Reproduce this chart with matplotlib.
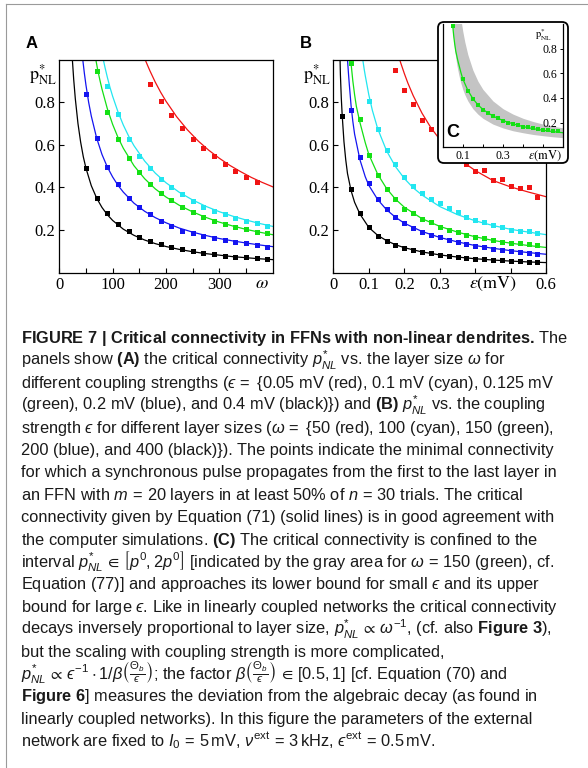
import matplotlib
matplotlib.use("Agg")
import matplotlib.pyplot as plt
from matplotlib.patches import FancyBboxPatch
from matplotlib.lines import Line2D

plt.rcParams["mathtext.fontset"] = "custom"
plt.rcParams["mathtext.rm"] = "Liberation Sans"
plt.rcParams["mathtext.it"] = "Liberation Sans:italic"
plt.rcParams["mathtext.bf"] = "Liberation Sans:bold"
plt.rcParams["mathtext.sf"] = "Liberation Sans"
plt.rcParams["mathtext.fallback"] = "stixsans"

# ---------------- data: panel A (p* vs layer size omega) ----------------
a_black_w = [50, 70, 90, 110, 130, 150, 170, 190, 210, 230, 250, 270, 290, 310, 330, 350, 370, 390]
a_black_p = [0.49, 0.352, 0.281, 0.227, 0.197, 0.169, 0.150, 0.133, 0.120, 0.109, 0.100, 0.092,
             0.085, 0.080, 0.075, 0.071, 0.068, 0.064]
a_blue_w = [50, 70, 90, 110, 130, 150, 170, 190, 210, 230, 250, 270, 290, 310, 330, 350, 370, 390]
a_blue_p = [0.838, 0.633, 0.497, 0.414, 0.352, 0.306, 0.274, 0.242, 0.219, 0.197, 0.184, 0.172,
            0.161, 0.152, 0.145, 0.137, 0.130, 0.122]
a_green_w = [70, 90, 110, 130, 150, 170, 190, 210, 230, 250, 270, 290, 310, 330, 350, 370, 390]
a_green_p = [0.946, 0.756, 0.626, 0.540, 0.471, 0.414, 0.372, 0.341, 0.309, 0.283, 0.262, 0.244,
             0.228, 0.215, 0.203, 0.192, 0.184]
a_cyan_w = [90, 110, 130, 150, 170, 190, 210, 230, 250, 270, 290, 310, 330, 350, 370, 390]
a_cyan_p = [0.878, 0.743, 0.627, 0.547, 0.493, 0.438, 0.403, 0.370, 0.338, 0.309, 0.291, 0.274,
            0.258, 0.242, 0.231, 0.219]
a_red_w = [170, 190, 210, 230, 250, 270, 290, 310, 330, 350, 370]
a_red_p = [0.885, 0.806, 0.740, 0.677, 0.627, 0.586, 0.547, 0.510, 0.478, 0.450, 0.427]

# theory curves (Equation 71), panel A
a_black_cw = [24.5, 27, 30, 35, 40, 45, 50, 60, 70, 80, 90, 100, 120, 140, 160, 180, 200, 225, 250,
              275, 300, 325, 350, 375, 400]
a_black_cp = [1.0, 0.907, 0.817, 0.70, 0.613, 0.544, 0.49, 0.408, 0.35, 0.306, 0.272, 0.245, 0.204,
              0.175, 0.153, 0.136, 0.1225, 0.109, 0.098, 0.089, 0.082, 0.075, 0.070, 0.065, 0.061]
a_blue_cw = [44, 47, 50, 55, 60, 70, 80, 90, 100, 110, 120, 140, 160, 180, 200, 225, 250, 275, 300,
             325, 350, 375, 400]
a_blue_cp = [1.0, 0.936, 0.88, 0.80, 0.735, 0.632, 0.555, 0.496, 0.449, 0.410, 0.378, 0.326, 0.288,
             0.258, 0.234, 0.209, 0.190, 0.174, 0.160, 0.149, 0.139, 0.130, 0.122]
a_green_cw = [68.5, 72, 76, 80, 90, 100, 110, 120, 140, 160, 180, 200, 225, 250, 275, 300, 325, 350,
              375, 400]
a_green_cp = [1.0, 0.952, 0.905, 0.862, 0.77, 0.696, 0.635, 0.584, 0.502, 0.441, 0.393, 0.355, 0.316,
              0.285, 0.259, 0.237, 0.219, 0.203, 0.190, 0.178]
a_cyan_cw = [82.5, 86, 90, 95, 100, 110, 120, 130, 140, 160, 180, 200, 225, 250, 275, 300, 325, 350,
             375, 400]
a_cyan_cp = [1.0, 0.96, 0.918, 0.87, 0.828, 0.755, 0.693, 0.641, 0.596, 0.524, 0.467, 0.422, 0.377,
             0.341, 0.311, 0.286, 0.265, 0.247, 0.231, 0.217]
a_red_cw = [161, 165, 170, 180, 190, 200, 220, 240, 260, 280, 300, 320, 340, 360, 380, 400]
a_red_cp = [1.0, 0.976, 0.947, 0.894, 0.847, 0.805, 0.732, 0.671, 0.619, 0.575, 0.537, 0.503, 0.474,
            0.447, 0.424, 0.403]

# ---------------- data: panel B (p* vs coupling strength eps) ----------------
b_black_e = [0.025, 0.05, 0.075, 0.1, 0.125, 0.15, 0.175, 0.2, 0.225, 0.25, 0.275, 0.3, 0.325, 0.35,
             0.375, 0.4, 0.425, 0.45, 0.475, 0.5, 0.525, 0.55, 0.575]
b_black_p = [0.737, 0.392, 0.281, 0.216, 0.173, 0.150, 0.130, 0.117, 0.106, 0.098, 0.090, 0.084,
             0.079, 0.072, 0.068, 0.065, 0.062, 0.059, 0.058, 0.055, 0.053, 0.052, 0.050]
b_blue_e = [0.05, 0.075, 0.1, 0.125, 0.15, 0.175, 0.2, 0.225, 0.25, 0.275, 0.3, 0.325, 0.35, 0.375,
            0.4, 0.425, 0.45, 0.475, 0.5, 0.525, 0.55, 0.575]
b_blue_p = [0.763, 0.544, 0.419, 0.346, 0.299, 0.260, 0.231, 0.211, 0.192, 0.177, 0.166, 0.153,
            0.142, 0.134, 0.125, 0.119, 0.112, 0.106, 0.101, 0.095, 0.090, 0.087]
b_green_e = [0.05, 0.075, 0.1, 0.125, 0.15, 0.175, 0.2, 0.225, 0.25, 0.275, 0.3, 0.325, 0.35, 0.375,
             0.4, 0.425, 0.45, 0.475, 0.5, 0.525, 0.55, 0.575]
b_green_p = [0.982, 0.721, 0.552, 0.458, 0.392, 0.346, 0.299, 0.278, 0.252, 0.236, 0.216, 0.200,
             0.189, 0.177, 0.166, 0.161, 0.153, 0.145, 0.140, 0.137, 0.134, 0.129]
b_cyan_e = [0.1, 0.125, 0.15, 0.175, 0.2, 0.225, 0.25, 0.275, 0.3, 0.325, 0.35, 0.375, 0.4, 0.425,
            0.45, 0.475, 0.5, 0.525, 0.55, 0.575]
b_cyan_p = [0.807, 0.674, 0.576, 0.508, 0.447, 0.408, 0.372, 0.346, 0.325, 0.302, 0.283, 0.262,
            0.247, 0.236, 0.224, 0.213, 0.200, 0.197, 0.195, 0.184]
b_red_e = [0.175, 0.2, 0.225, 0.25, 0.275, 0.3, 0.325, 0.35, 0.375, 0.4, 0.425, 0.45, 0.475, 0.5,
           0.525, 0.55, 0.575]
b_red_p = [0.951, 0.857, 0.792, 0.716, 0.673, 0.63, 0.59, 0.55, 0.510, 0.478, 0.482, 0.435, 0.438,
           0.408, 0.396, 0.403, 0.356]

b_black_ce = [0.019, 0.02, 0.0225, 0.025, 0.03, 0.035, 0.04, 0.05, 0.06, 0.075, 0.1, 0.125, 0.15,
              0.175, 0.2, 0.25, 0.3, 0.35, 0.4, 0.45, 0.5, 0.55, 0.6]
b_black_cp = [1.0, 0.93, 0.82, 0.74, 0.615, 0.53, 0.465, 0.385, 0.33, 0.275, 0.212, 0.175, 0.15,
              0.131, 0.117, 0.097, 0.083, 0.073, 0.065, 0.059, 0.054, 0.05, 0.047]
b_blue_ce = [0.04, 0.0425, 0.045, 0.05, 0.055, 0.06, 0.075, 0.09, 0.1, 0.125, 0.15, 0.175, 0.2, 0.25,
             0.3, 0.35, 0.4, 0.45, 0.5, 0.55, 0.6]
b_blue_cp = [1.0, 0.94, 0.885, 0.785, 0.71, 0.65, 0.53, 0.45, 0.41, 0.343, 0.295, 0.26, 0.232, 0.193,
             0.165, 0.144, 0.127, 0.114, 0.103, 0.094, 0.086]
b_green_ce = [0.049, 0.05, 0.055, 0.06, 0.065, 0.075, 0.09, 0.1, 0.125, 0.15, 0.175, 0.2, 0.25, 0.3,
              0.35, 0.4, 0.45, 0.5, 0.55, 0.6]
b_green_cp = [1.0, 0.982, 0.9, 0.835, 0.78, 0.705, 0.61, 0.555, 0.462, 0.395, 0.345, 0.307, 0.253,
              0.217, 0.19, 0.168, 0.151, 0.138, 0.127, 0.118]
b_cyan_ce = [0.083, 0.087, 0.09, 0.1, 0.11, 0.125, 0.15, 0.175, 0.2, 0.225, 0.25, 0.3, 0.35, 0.4,
             0.45, 0.5, 0.55, 0.6]
b_cyan_cp = [1.0, 0.955, 0.925, 0.835, 0.762, 0.676, 0.572, 0.498, 0.442, 0.398, 0.364, 0.31, 0.272,
             0.243, 0.221, 0.203, 0.19, 0.178]
b_red_ce = [0.187, 0.19, 0.2, 0.21, 0.225, 0.25, 0.275, 0.3, 0.325, 0.35, 0.375, 0.4, 0.45, 0.5,
            0.55, 0.6]
b_red_cp = [1.0, 0.984, 0.935, 0.89, 0.831, 0.748, 0.68, 0.625, 0.578, 0.539, 0.508, 0.479, 0.432,
            0.402, 0.378, 0.356]

# ---------------- data: panel C (omega = 150 with bounds p0 .. 2 p0) ----------------
c_band_e = [0.045, 0.05, 0.06, 0.07, 0.08, 0.09, 0.1, 0.11, 0.125, 0.15, 0.175, 0.2, 0.25, 0.3,
            0.35, 0.4, 0.45, 0.5, 0.55, 0.6]
c_band_lo = [1.04, 0.94, 0.783, 0.671, 0.588, 0.522, 0.47, 0.427, 0.376, 0.313, 0.269, 0.235,
             0.188, 0.157, 0.134, 0.118, 0.104, 0.094, 0.085, 0.078]
c_band_hi = [2.09, 1.88, 1.567, 1.343, 1.175, 1.044, 0.94, 0.855, 0.752, 0.627, 0.537, 0.47, 0.376,
             0.313, 0.269, 0.235, 0.209, 0.188, 0.171, 0.157]
c_pts_e = [0.05, 0.1, 0.125, 0.15, 0.175, 0.2, 0.225, 0.25, 0.275, 0.3, 0.325, 0.35, 0.375, 0.4,
           0.425, 0.45, 0.475, 0.5, 0.525, 0.55, 0.575]
c_pts_p = [0.982, 0.552, 0.458, 0.392, 0.346, 0.299, 0.278, 0.252, 0.236, 0.216, 0.200, 0.189,
           0.177, 0.166, 0.161, 0.153, 0.145, 0.140, 0.137, 0.134, 0.129]

a_yticks = [0.2, 0.4, 0.6, 0.8]
a_xticks = [0, 50, 100, 150, 200, 250, 300, 350]
a_xticklabels = ["0", "", "100", "", "200", "", "300", ""]
b_xticks = [0, 0.1, 0.2, 0.3, 0.4, 0.5, 0.6]
b_xticklabels = ["0", "0.1", "0.2", "0.3", "", "", "0.6"]
c_xticks = [0.1, 0.2, 0.3, 0.4, 0.5]
c_xticklabels = ["0.1", "", "0.3", "", ""]

RED, CYAN, GREEN, BLUE, BLACK = "#f01414", "#22e6f0", "#14e014", "#1414f0", "#000000"
SERIF = "Liberation Serif"
SANS = "Liberation Sans"

W, H = 588, 768
fig = plt.figure(figsize=(W / 100, H / 100), dpi=100)
fig.patch.set_facecolor("white")


def px_box(l, t, r, b):
    return [l / W, 1 - b / H, (r - l) / W, (b - t) / H]


def fx(x):
    return x / W


def fy(y):
    return 1 - y / H


def style_axes(ax, size=12, length=3.5, pad=3):
    for s in ax.spines.values():
        s.set_linewidth(0.9)
    ax.tick_params(direction="in", length=length, width=0.8, labelsize=size, pad=pad,
                   labelfontfamily=SERIF, top=False, right=False)


def draw_series(ax, xs, ps, cx, cp, color, ms=3.6, lw=0.9):
    ax.plot(cx, cp, color=color, lw=lw, clip_on=True, zorder=2)
    ax.plot(xs, ps, ls="none", marker="s", ms=ms, mfc=color, mec=color, mew=0, zorder=3)


# thin page frame along the top and left edges
fig.add_artist(Line2D([fx(5.5), 1.0], [fy(3.5), fy(3.5)], transform=fig.transFigure,
                      color="#9a9a9a", lw=0.8))
fig.add_artist(Line2D([fx(5.5), fx(5.5)], [fy(3.5), 0.0], transform=fig.transFigure,
                      color="#9a9a9a", lw=0.8))

# ---------------- panel A ----------------
axA = fig.add_axes(px_box(59.3, 59.6, 272.6, 272.6))
style_axes(axA)
axA.set_xlim(0, 400)
axA.set_ylim(0, 1.0)
axA.set_yticks(a_yticks)
axA.set_yticklabels([f"{v:.1f}" for v in a_yticks])
axA.set_xticks(a_xticks)
axA.set_xticklabels(a_xticklabels)
draw_series(axA, a_red_w, a_red_p, a_red_cw, a_red_cp, RED)
draw_series(axA, a_cyan_w, a_cyan_p, a_cyan_cw, a_cyan_cp, CYAN)
draw_series(axA, a_green_w, a_green_p, a_green_cw, a_green_cp, GREEN)
draw_series(axA, a_blue_w, a_blue_p, a_blue_cw, a_blue_cp, BLUE)
draw_series(axA, a_black_w, a_black_p, a_black_cw, a_black_cp, BLACK)
axA.annotate(r"$\omega$", xy=(380, 0), xycoords=axA.get_xaxis_transform(), xytext=(0, -11.2),
             textcoords="offset points", ha="center", va="baseline", fontsize=13,
             math_fontfamily="stix")

# ---------------- panel B ----------------
axB = fig.add_axes(px_box(333.3, 59.6, 546.3, 272.6))
style_axes(axB)
axB.set_xlim(0, 0.6)
axB.set_ylim(0, 1.0)
axB.set_yticks(a_yticks)
axB.set_yticklabels([f"{v:.1f}" for v in a_yticks])
axB.set_xticks(b_xticks)
axB.set_xticklabels(b_xticklabels)
draw_series(axB, b_red_e, b_red_p, b_red_ce, b_red_cp, RED)
draw_series(axB, b_cyan_e, b_cyan_p, b_cyan_ce, b_cyan_cp, CYAN)
draw_series(axB, b_green_e, b_green_p, b_green_ce, b_green_cp, GREEN)
draw_series(axB, b_blue_e, b_blue_p, b_blue_ce, b_blue_cp, BLUE)
draw_series(axB, b_black_e, b_black_p, b_black_ce, b_black_cp, BLACK)
axB.annotate(r"$\varepsilon(\mathrm{mV})$", xy=(0.45, 0), xycoords=axB.get_xaxis_transform(),
             xytext=(0, -11.2), textcoords="offset points", ha="center", va="baseline",
             fontsize=13, math_fontfamily="stix")

# axis symbol p*_NL above the y tick labels
for xr in (57, 331):
    fig.text(fx(xr), fy(80), r"$\mathrm{p}^{*}_{\mathrm{NL}}$", ha="right", va="baseline",
             fontsize=13, math_fontfamily="stix")

# panel letters
fig.text(fx(26), fy(48), "A", fontsize=12, fontweight="bold", family=SANS, va="baseline")
fig.text(fx(300), fy(48), "B", fontsize=12, fontweight="bold", family=SANS, va="baseline")

# ---------------- inset C ----------------
frame = FancyBboxPatch((4.38, (H - 163) / 100), 1.30, 1.41,
                       boxstyle="round,pad=0,rounding_size=0.06",
                       transform=fig.dpi_scale_trans, fc="white", ec="black", lw=1.3, zorder=5)
fig.patches.append(frame)

axC = fig.add_axes(px_box(442.7, 24, 563.3, 147.3), zorder=6)
axC.patch.set_alpha(0)
for s in axC.spines.values():
    s.set_linewidth(0.9)
axC.spines["top"].set_visible(False)
axC.set_xlim(0, 0.6)
axC.set_ylim(0, 1.0)
axC.fill_between(c_band_e, c_band_lo, c_band_hi, color="#c4c4c4", lw=0, zorder=1)
axC.plot(b_green_ce, b_green_cp, color=GREEN, lw=0.9, zorder=2)
axC.plot(c_pts_e, c_pts_p, ls="none", marker="s", ms=2.4, mfc=GREEN, mec=GREEN, mew=0, zorder=3)
axC.yaxis.tick_right()
axC.set_yticks(a_yticks)
axC.set_yticklabels([f"{v:.1f}" for v in a_yticks])
axC.set_xticks(c_xticks)
axC.set_xticklabels(c_xticklabels)
axC.tick_params(direction="in", length=2.5, width=0.7, labelsize=8.5, labelfontfamily=SERIF)
axC.tick_params(axis="y", pad=-4)
axC.tick_params(axis="x", pad=2)
for lab in axC.get_yticklabels():
    lab.set_horizontalalignment("right")
axC.annotate(r"$\varepsilon(\mathrm{mV})$", xy=(0.51, 0), xycoords=axC.get_xaxis_transform(),
             xytext=(0, -8.0), textcoords="offset points", ha="center", va="baseline",
             fontsize=9, math_fontfamily="stix")
fig.text(fx(552), fy(38), r"$\mathrm{p}^{*}_{\mathrm{NL}}$", ha="right", va="baseline",
         fontsize=7.5, math_fontfamily="stix", zorder=7)
fig.text(fx(446), fy(136.7), "C", fontsize=13, fontweight="bold", family=SANS, va="baseline",
         zorder=7)

# ---------------- caption ----------------
EPS = "\u03f5"
EQ = r"\,=\,"
caption = [
    "FIGURE 7 | Critical connectivity in FFNs with non-linear dendrites. $\\mathrm{The}$",
    r"panels show $\mathbf{(A)}$ the critical connectivity $p^{*}_{NL}$ vs. the layer size $\omega$ for",
    r"different coupling strengths ($" + EPS + r"\,=$ {0.05 mV (red), 0.1 mV (cyan), 0.125 mV",
    r"(green), 0.2 mV (blue), and 0.4 mV (black)}) and $\mathbf{(B)}$ $p^{*}_{NL}$ vs. the coupling",
    r"strength $" + EPS + r"$ for different layer sizes ($\omega\,=$ {50 (red), 100 (cyan), 150 (green),",
    "200 (blue), and 400 (black)}). The points indicate the minimal connectivity",
    "for which a synchronous pulse propagates from the first to the last layer in",
    r"an FFN with $m" + EQ + r"20$ layers in at least 50% of $n" + EQ + r"30$ trials. The critical",
    "connectivity given by Equation (71) (solid lines) is in good agreement with",
    r"the computer simulations. $\mathbf{(C)}$ The critical connectivity is confined to the",
    r"interval $p^{*}_{NL}\,\in\,\left[p^{0}, 2p^{0}\right]$ [indicated by the gray area for $\omega" + EQ + r"150$ (green), cf.",
    r"Equation (77)] and approaches its lower bound for small $" + EPS + r"$ and its upper",
    r"bound for large $" + EPS + r"$. Like in linearly coupled networks the critical connectivity",
    r"decays inversely proportional to layer size, $p^{*}_{NL}\,\propto\,\omega^{-1}$, (cf. also $\mathbf{Figure\ 3}$),",
    "but the scaling with coupling strength is more complicated,",
    r"$p^{*}_{NL}\,\propto\," + EPS + r"^{-1} \cdot 1/\beta\left(\frac{\Theta_b}{" + EPS + r"}\right)$; the factor $\beta\left(\frac{\Theta_b}{" + EPS + r"}\right)\,\in\,[0.5, 1]$ [cf. Equation (70) and",
    r"$\mathbf{Figure\ 6}$] measures the deviation from the algebraic decay (as found in",
    "linearly coupled networks). In this figure the parameters of the external",
    r"network are fixed to $I_0" + EQ + r"5\,\mathrm{mV}$, $\nu^{\mathrm{ext}}" + EQ + r"3\,\mathrm{kHz}$, $" + EPS + r"^{\mathrm{ext}}" + EQ + r"0.5\,\mathrm{mV}$.",
]
for i, line in enumerate(caption):
    fig.text(fx(21), fy(343 + i * 22.4), line, fontsize=11.8, family=SANS, va="baseline",
             ha="left", fontweight="bold" if i == 0 else "normal", color="#1a1a1a")

fig.savefig("out.png", dpi=100, facecolor="white")
